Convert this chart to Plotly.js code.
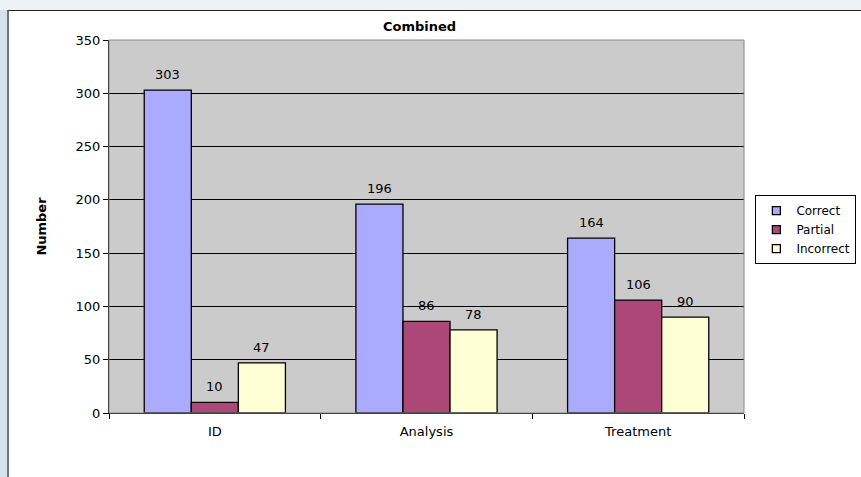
<!DOCTYPE html>
<html><head><meta charset="utf-8">
<script src="https://cdn.plot.ly/plotly-3.0.1.min.js"></script>
<style>
html,body{margin:0;padding:0;width:861px;height:477px;overflow:hidden;background:#eef2f6;}
#strip{position:absolute;left:0;top:10px;width:7px;height:467px;background:#d6e1ee;}
#frame{position:absolute;left:7px;top:10px;width:853px;height:466px;border-top:1px solid #222;border-left:2px solid #6b7480;background:#fff;}
#chart{width:853px;height:466px;}
</style></head>
<body>
<div id="strip"></div>
<div id="frame"><div id="chart"></div></div>
<script>
const categories = ["ID", "Analysis", "Treatment"];
const correct = [303, 196, 164];
const partial = [10, 86, 106];
const incorrect = [47, 78, 90];
const seriesNames = ["Correct", "Partial", "Incorrect"];
const colors = ["#aaaaff", "#ab4878", "#ffffd5"];
const yTicks = [0, 50, 100, 150, 200, 250, 300, 350];

const FAM = "DejaVu Sans, Verdana, sans-serif";
const W = 853, H = 466;
const M = {l: 100, r: 118, t: 29, b: 64, pad: 0};
const BARGAP = 0.333;
const vals = [correct, partial, incorrect];

// bars (legend handled by small-square legend-only traces)
const traces = vals.map((v, i) => ({
  type: "bar", name: seriesNames[i], x: categories, y: v, showlegend: false,
  marker: {color: colors[i], line: {color: "#000", width: 1.3}}
}));
vals.forEach((v, i) => traces.push({
  type: "scatter", mode: "markers", name: seriesNames[i], x: [null], y: [null],
  marker: {symbol: "square", size: 8, color: colors[i], line: {color: "#000", width: 1.3}},
  showlegend: true, hoverinfo: "skip"
}));

// value labels, offset within each group
const plotW = W - M.l - M.r;
const barW = plotW / categories.length * (1 - BARGAP) / vals.length;
const annotations = [];
vals.forEach((v, i) => v.forEach((val, j) => annotations.push({
  x: categories[j], y: val, xref: "x", yref: "y", text: String(val),
  showarrow: false, yanchor: "bottom", xanchor: "center",
  xshift: (i - 1) * barW, yshift: 6,
  font: {family: FAM, size: 13, color: "#000"}
})));
annotations.push({
  text: "<b>Combined</b>", xref: "paper", yref: "paper", x: 0.489, y: 1, yshift: 4,
  xanchor: "center", yanchor: "bottom", showarrow: false,
  font: {family: FAM, size: 13, color: "#000"}
});

const layout = {
  width: W, height: H, margin: M,
  paper_bgcolor: "#fff", plot_bgcolor: "#cbcbcb",
  font: {family: FAM, size: 13, color: "#000"},
  barmode: "group", bargap: BARGAP, bargroupgap: 0,
  xaxis: {type: "category", showgrid: false, ticks: "outside", tickson: "boundaries",
          ticklen: 5, tickcolor: "#000", linecolor: "#000", showline: true, linewidth: 1,
          ticklabelstandoff: 6, tickfont: {family: FAM, size: 13}},
  yaxis: {range: [0, 350], tickvals: yTicks, ticks: "outside", ticklen: 5, tickcolor: "#000",
          showline: true, linecolor: "#000", linewidth: 1, gridcolor: "#000", gridwidth: 1,
          zeroline: false, tickfont: {family: FAM, size: 13},
          title: {text: "<b>Number</b>", standoff: 26, font: {family: FAM, size: 13}}},
  legend: {xref: "container", yref: "container", x: 0.875, xanchor: "left", y: 0.605, yanchor: "top",
           bgcolor: "#fff", bordercolor: "#000", borderwidth: 1,
           font: {family: FAM, size: 12}, itemwidth: 30, tracegroupgap: 0},
  shapes: [{type: "rect", xref: "paper", yref: "paper", x0: 0, x1: 1, y0: 0, y1: 1,
            line: {color: "#888", width: 1}}],
  annotations: annotations,
  showlegend: true
};
Plotly.newPlot("chart", traces, layout, {staticPlot: true, displayModeBar: false});
</script>
</body></html>
